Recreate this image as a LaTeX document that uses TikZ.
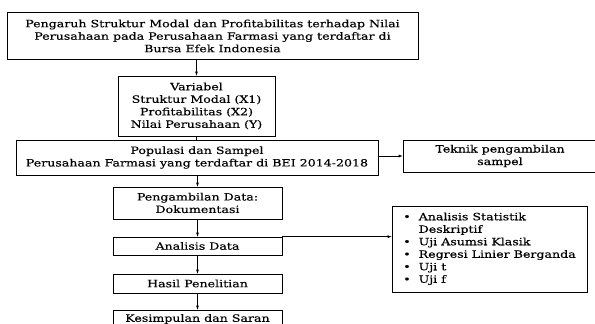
\documentclass[tikz,border=0pt]{standalone}
\usepackage{fontspec}
\setmainfont{DejaVu Serif}[FakeStretch=1.26, FakeBold=0.3]
\tikzset{box/.style={draw, line width=0.7pt, align=center, inner sep=0pt, font=\fontsize{10}{12.5}\selectfont}}
\begin{document}
\begin{tikzpicture}[x=1pt, y=-1pt, >=latex]
            \useasboundingbox (0,0) rectangle (595,324);
            \node[box, minimum width=411, minimum height=47] (judul) at (212.5,36) {Pengaruh Struktur Modal dan Profitabilitas terhadap Nilai\\ Perusahaan pada Perusahaan Farmasi yang terdaftar di\\ Bursa Efek Indonesia};
            \node[box, minimum width=157, minimum height=60] (var) at (196.5,106) {Variabel\\ Struktur Modal (X1)\\ Profitabilitas (X2)\\ Nilai Perusahaan (Y)};
            \node[box, minimum width=362, minimum height=35] (pop) at (197,157.5) {Populasi dan Sampel\\ Perusahaan Farmasi yang terdaftar di BEI 2014-2018};
            \node[box, minimum width=194, minimum height=32] (teknik) at (500,156) {Teknik pengambilan\\ sampel};
            \node[box, minimum width=169, minimum height=32] (ambil) at (197.5,203) {Pengambilan Data:\\ Dokumentasi};
            \node[box, minimum width=169, minimum height=18] (analisis) at (197.5,246) {Analisis Data};
            \node[box, minimum width=169, minimum height=19] (hasil) at (197.5,283.5) {Hasil Penelitian};
            \node[box, minimum width=169, minimum height=18] (simpul) at (197.5,319) {Kesimpulan dan Saran};
            \node[box, minimum width=195, minimum height=86] (uji) at (489.5,249) {\begin{tabular}{@{}l@{\ \ }l@{}}
                \textbullet & Analisis Statistik\\ & Deskriptif\\ \textbullet & Uji Asumsi Klasik\\ \textbullet & Regresi Linier Berganda\\ \textbullet & Uji t\\ \textbullet & Uji f
            \end{tabular}};

            \draw[->] (var.north |- judul.south) to (var.north); \draw (var.south) to (var.south |- pop.north);
            \draw[->] (ambil.north |- pop.south) to (ambil.north); \draw[->] (pop.east |- teknik.west) to (teknik.west);
            \draw[->] (ambil) to (analisis); \draw[->] (analisis) to (hasil); \draw[->] (hasil) to (simpul);
            \draw[->] (analisis.north east) to (analisis.north east -| uji.west);
        \end{tikzpicture}
\end{document}
